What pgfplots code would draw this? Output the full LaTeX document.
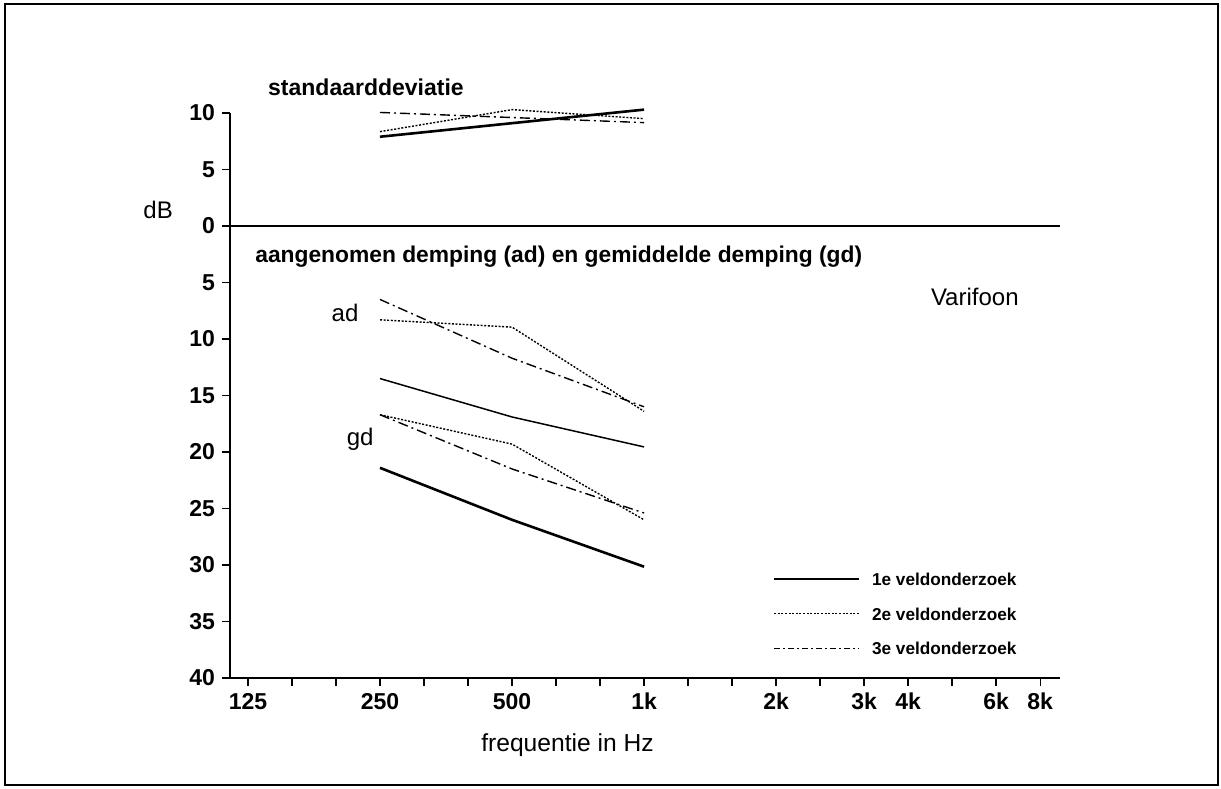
\documentclass[border=0pt]{standalone}
\usepackage{fontspec}
\setmainfont{Liberation Sans}
\usepackage{pgfplots}
\pgfplotsset{compat=1.18}
\begin{document}
\begin{tikzpicture}
\begin{axis}[
  name=ax,
  scale only axis, width=415pt, height=282.5pt,
  xmin=-0.136, xmax=6.15, ymin=-40, ymax=10,
  axis x line=bottom, axis y line=left,
  axis line style={-, line width=0.8pt},
  clip=false,
  tick align=outside, major tick length=4pt,
  tick style={black, line width=0.7pt},
  xtick={0,0.3333,0.6667,1,1.3333,1.6667,2,2.3333,2.6667,3,3.3333,3.6667,4,4.3333,4.6667,5,5.3333,5.6667,6},
  xticklabels={125,,,250,,,500,,,1k,,,2k,,3k,4k,,6k,8k},
  ytick={-40,-35,-30,-25,-20,-15,-10,-5,0,5,10},
  yticklabels={40,35,30,25,20,15,10,5,0,5,10},
  tick label style={font=\bfseries\fontsize{11.5}{12}\selectfont},
  legend style={at={(axis cs:3.93,-29.95)}, anchor=north west, draw=none, fill=none,
    font=\bfseries\fontsize{8.6}{9}\selectfont, row sep=7pt,
    nodes={inner sep=2pt, text height=6.3pt, text depth=0pt}},
  legend cell align=left,
  legend image code/.code={\draw[#1] (0pt,0pt) -- (42.5pt,0pt); \path (46.5pt,0pt);},
]
% zero line
\draw[line width=0.8pt] (axis cs:-0.136,0) -- (axis cs:6.15,0);
% standaarddeviatie
\addplot[forget plot, black, line width=1.3pt] coordinates {(1,7.9)(2,9.1)(3,10.3)};
\addplot[forget plot, black, line width=0.7pt, dash pattern=on 1pt off 0.8pt] coordinates {(1,8.35)(2,10.3)(3,9.5)};
\addplot[forget plot, black, line width=0.7pt, dash pattern=on 5pt off 2pt on 1pt off 2pt] coordinates {(1,10.05)(2,9.6)(3,9.15)};
% aangenomen demping
\addplot[forget plot, black, line width=0.75pt] coordinates {(1,-13.5)(2,-16.9)(3,-19.55)};
\addplot[forget plot, black, line width=0.7pt, dash pattern=on 1pt off 0.8pt] coordinates {(1,-8.3)(2,-8.95)(3,-16.4)};
\addplot[forget plot, black, line width=0.7pt, dash pattern=on 5pt off 2pt on 1pt off 2pt] coordinates {(1,-6.5)(2,-11.7)(3,-16.0)};
% gemiddelde demping
\addplot[forget plot, black, line width=1.3pt] coordinates {(1,-21.4)(2,-26.0)(3,-30.15)};
\addplot[forget plot, black, line width=0.7pt, dash pattern=on 1pt off 0.8pt] coordinates {(1,-16.7)(2,-19.3)(3,-26.0)};
\addplot[forget plot, black, line width=0.7pt, dash pattern=on 5pt off 2pt on 1pt off 2pt] coordinates {(1,-16.7)(2,-21.5)(3,-25.4)};
% legend
\addlegendimage{black, line width=0.9pt}
\addlegendentry{1e veldonderzoek}
\addlegendimage{black, line width=0.6pt, dash pattern=on 1pt off 0.8pt}
\addlegendentry{2e veldonderzoek}
\addlegendimage{black, line width=0.7pt, dash pattern=on 3pt off 1.5pt on 1pt off 1.5pt}
\addlegendentry{3e veldonderzoek}
% texts
\node[anchor=west, inner sep=0pt, font=\bfseries\fontsize{11.5}{12}\selectfont] at (axis cs:0.15,12.3) {standaarddeviatie};
\node[font=\fontsize{12}{13}\selectfont] at (axis cs:-0.68,1.4) {dB};
\node[anchor=west, inner sep=0pt, font=\bfseries\fontsize{11.4}{12}\selectfont] at (axis cs:0.053,-2.74) {aangenomen demping (ad) en gemiddelde demping (gd)};
\node[anchor=west, inner sep=0pt, font=\fontsize{12}{13}\selectfont] at (axis cs:5.17,-6.28) {Varifoon};
\node[font=\fontsize{12}{13}\selectfont] at (axis cs:0.735,-7.7) {ad};
\node[font=\fontsize{12}{13}\selectfont] at (axis cs:0.85,-18.9) {gd};
\node[font=\fontsize{12.3}{13}\selectfont, yshift=-33.5pt] at (axis cs:2.42,-40) {frequentie in Hz};
\end{axis}
\pgfresetboundingbox
\path[use as bounding box] ([shift={(-115pt,-55pt)}]ax.south west) rectangle ([shift={(495.5pt,339pt)}]ax.south west);
\draw[line width=1pt] ([shift={(-112.5pt,-53.5pt)}]ax.south west) rectangle ([shift={(494pt,337pt)}]ax.south west);
\end{tikzpicture}
\end{document}
